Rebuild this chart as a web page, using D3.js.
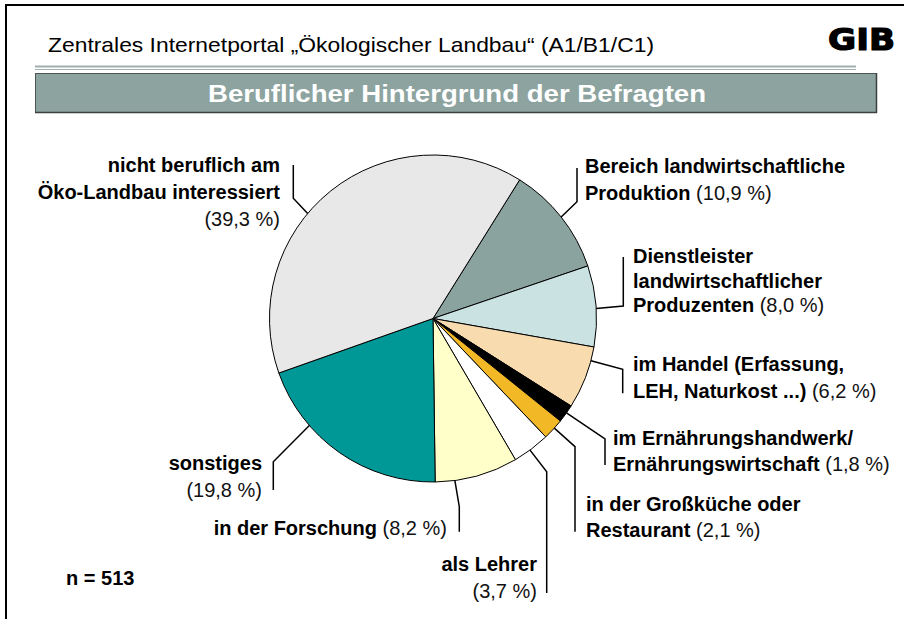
<!DOCTYPE html>
<html><head><meta charset="utf-8">
<script src="https://cdn.jsdelivr.net/npm/d3@7"></script>
<style>
html,body{margin:0;padding:0;background:#fff;}
svg{display:block;font-family:"Liberation Sans",Arial,sans-serif;}
</style></head>
<body>
<svg id="chart" width="906" height="619"></svg>
<script>
// ---- data ----
const categories = [
  "Bereich landwirtschaftliche Produktion",
  "Dienstleister landwirtschaftlicher Produzenten",
  "im Handel (Erfassung, LEH, Naturkost ...)",
  "im Ernährungshandwerk/ Ernährungswirtschaft",
  "in der Großküche oder Restaurant",
  "als Lehrer",
  "in der Forschung",
  "sonstiges",
  "nicht beruflich am Öko-Landbau interessiert"
];
const values = [10.9, 8.0, 6.2, 1.8, 2.1, 3.7, 8.2, 19.8, 39.3];
const colors = ["#8ba39f", "#cbe2e2", "#f8dbae", "#000000", "#f2b826", "#ffffff", "#ffffca", "#009897", "#e8e8e8"];
// label text lines: [bold part, add percent?]
const labelLines = [
  [["Bereich landwirtschaftliche", false], ["Produktion", true]],
  [["Dienstleister", false], ["landwirtschaftlicher", false], ["Produzenten", true]],
  [["im Handel (Erfassung,", false], ["LEH, Naturkost ...)", true]],
  [["im Ernährungshandwerk/", false], ["Ernährungswirtschaft", true]],
  [["in der Großküche oder", false], ["Restaurant", true]],
  [["als Lehrer", false], ["", true]],
  [["in der Forschung", true]],
  [["sonstiges", false], ["", true]],
  [["nicht beruflich am", false], ["Öko-Landbau interessiert", false], ["", true]]
];
const headerText = "Zentrales Internetportal „Ökologischer Landbau“ (A1/B1/C1)";
const titleText = "Beruflicher Hintergrund der Befragten";
const sampleText = "n = 513";

// ---- layout (annotation geometry) ----
const cx = 433, cy = 318.5, R = 163.5;
const startDeg = 32;
const labelLayout = [
  {anchor:"start", x:585, y:[173,200], frac:0.5,  elbow:[577,201.7], end:[577,168]},
  {anchor:"start", x:633, y:[263,288,312], frac:0.53, elbow:[623.3,306], end:[623.3,257]},
  {anchor:"start", x:633, y:[371,398], frac:0.22, elbow:[622.7,369.3], end:[622.7,393.3]},
  {anchor:"start", x:613, y:[445,471], frac:0.45, elbow:[605,439], end:[605,465]},
  {anchor:"start", x:586, y:[511,537], frac:0.43, elbow:[575,446.7], end:[575,531.7]},
  {anchor:"end",   x:537, y:[571,598], frac:0.54, elbow:[546.7,471.7], end:[546.7,593]},
  {anchor:"end",   x:447, y:[535],     frac:0.765, elbow:[459.3,506.7], end:[459.3,531.7]},
  {anchor:"end",   x:262, y:[470,497], frac:0.70, elbow:[273.3,461.7], end:[273.3,490]},
  {anchor:"end",   x:280, y:[172,199,226], frac:0.42, elbow:[293.3,198.3], end:[293.3,165]}
];

const svg = d3.select("#chart");
const fmt = v => "(" + d3.format(".1f")(v).replace(".", ",") + " %)";

// frame (top and left edges)
svg.append("line").attr("x1",5).attr("x2",904).attr("y1",5).attr("y2",5).attr("stroke","#000").attr("stroke-width",2);
svg.append("line").attr("x1",6).attr("x2",6).attr("y1",4).attr("y2",619).attr("stroke","#000").attr("stroke-width",2);

// header
svg.append("text").attr("x",48).attr("y",52).attr("font-size",21).attr("fill","#000")
  .attr("textLength",606).attr("lengthAdjust","spacingAndGlyphs").text(headerText);
svg.append("text").attr("x",828).attr("y",50).attr("font-size",30).attr("font-weight","bold")
  .attr("font-family","DejaVu Sans").attr("fill","#000").attr("stroke","#000").attr("stroke-width",1.2)
  .attr("textLength",67).attr("lengthAdjust","spacingAndGlyphs").text("GIB");

// double rule
svg.append("line").attr("x1",35).attr("x2",856).attr("y1",66.5).attr("y2",66.5).attr("stroke","#9fb0ae").attr("stroke-width",2);
svg.append("line").attr("x1",35).attr("x2",856).attr("y1",69.5).attr("y2",69.5).attr("stroke","#9fb0ae").attr("stroke-width",1);

// banner
svg.append("rect").attr("x",35.5).attr("y",73.5).attr("width",841).attr("height",39)
  .attr("fill","#8ca39f").attr("stroke","#4c5553").attr("stroke-width",1);
svg.append("line").attr("x1",35).attr("x2",877).attr("y1",112.5).attr("y2",112.5).attr("stroke","#3a403f").attr("stroke-width",1.5);
svg.append("line").attr("x1",876.5).attr("x2",876.5).attr("y1",73).attr("y2",113).attr("stroke","#3a403f").attr("stroke-width",1.5);
svg.append("text").attr("x",457).attr("y",102).attr("text-anchor","middle").attr("font-size",23)
  .attr("font-weight","bold").attr("fill","#fff")
  .attr("textLength",498).attr("lengthAdjust","spacingAndGlyphs").text(titleText);

// pie
const rad = Math.PI/180;
const pie = d3.pie().sort(null).value(d => d)
  .startAngle(startDeg*rad).endAngle((startDeg+360)*rad);
const arcs = pie(values);
const arc = d3.arc().innerRadius(0).outerRadius(R);
const g = svg.append("g").attr("transform",`translate(${cx},${cy})`);
g.selectAll("path").data(arcs).join("path")
  .attr("d", arc).attr("fill",(d,i)=>colors[i])
  .attr("stroke","#000").attr("stroke-width",1).attr("stroke-linejoin","round");

// leaders
arcs.forEach((d,i) => {
  const L = labelLayout[i];
  const a = d.startAngle + L.frac*(d.endAngle - d.startAngle);
  const sx = cx + R*Math.sin(a), sy = cy - R*Math.cos(a);
  svg.append("path")
    .attr("d", d3.line()([[sx,sy], L.elbow, L.end]))
    .attr("fill","none").attr("stroke","#000").attr("stroke-width",1.5);
});

// labels
labelLines.forEach((lines,i) => {
  const L = labelLayout[i];
  lines.forEach((ln,j) => {
    const t = svg.append("text").attr("x",L.x).attr("y",L.y[j])
      .attr("text-anchor",L.anchor).attr("font-size",20).attr("fill","#000");
    if (ln[0]) t.append("tspan").attr("font-weight","bold").text(ln[0]);
    if (ln[1]) t.append("tspan").attr("font-weight","normal").attr("fill","#111")
      .text((ln[0] ? " " : "") + fmt(values[i]));
  });
});

// sample size
svg.append("text").attr("x",66).attr("y",585).attr("font-size",20).attr("font-weight","bold").text(sampleText);
</script>
</body></html>
